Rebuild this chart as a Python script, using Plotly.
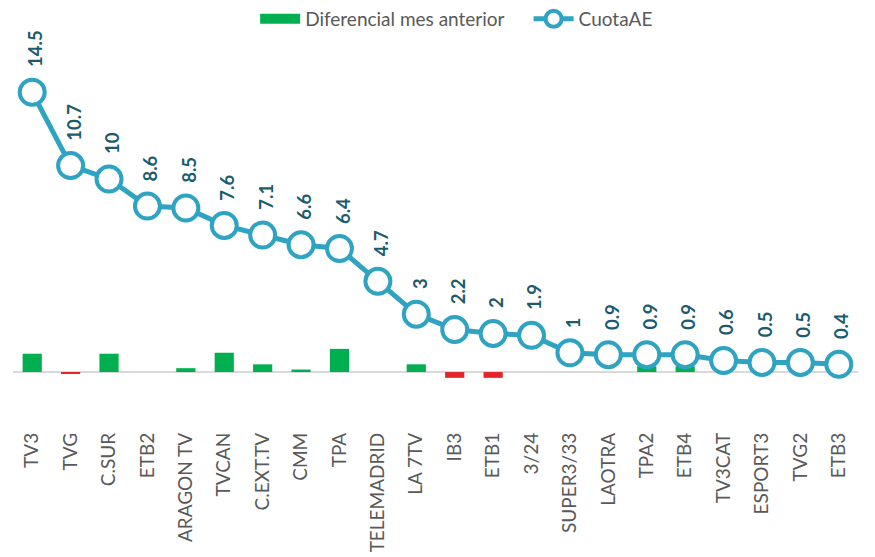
import plotly.graph_objects as go

categories = ["TV3", "TVG", "C.SUR", "ETB2", "ARAGON TV", "TVCAN", "C.EXT.TV", "CMM", "TPA",
              "TELEMADRID", "LA 7TV", "IB3", "ETB1", "3/24", "SUPER3/33", "LAOTRA", "TPA2",
              "ETB4", "TV3CAT", "ESPORT3", "TVG2", "ETB3"]
cuota = [14.5, 10.7, 10, 8.6, 8.5, 7.6, 7.1, 6.6, 6.4, 4.7, 3, 2.2, 2, 1.9, 1, 0.9, 0.9, 0.9,
         0.6, 0.5, 0.5, 0.4]
diferencial = [0.95, -0.1, 0.95, 0, 0.2, 1.0, 0.4, 0.13, 1.2, 0, 0.4, -0.3, -0.3, 0, 0, 0,
               0.3, 0.3, 0, -0.05, 0, 0]

line_color = "#2fa3c2"
label_color = "#1a5c6e"
green = "#00b050"
red = "#e3242b"
bar_colors = [green if v >= 0 else red for v in diferencial]
FONT = "Lato, Open Sans, sans-serif"

fig = go.Figure()
fig.add_trace(go.Bar(
    x=categories, y=diferencial, name="Diferencial mes anterior", showlegend=False,
    marker=dict(color=bar_colors, line=dict(width=0)),
))
# legend entry drawn as a wide green band (like the original legend key)
fig.add_trace(go.Scatter(
    x=[None], y=[None], name="Diferencial mes anterior&nbsp;&nbsp;&nbsp;&nbsp;", mode="lines",
    line=dict(color=green, width=10),
))
fig.add_trace(go.Scatter(
    x=categories, y=cuota, name="CuotaAE", mode="lines+markers",
    line=dict(color=line_color, width=5),
    marker=dict(size=25, color="white", line=dict(color=line_color, width=4)),
))

for c, v in zip(categories, cuota):
    fig.add_annotation(
        x=c, y=v, text=f"<b>{v:g}</b>", showarrow=False, textangle=-90,
        xanchor="center", yanchor="bottom", yshift=23, xshift=3,
        font=dict(family=FONT, size=18.5, color=label_color),
    )

fig.update_layout(
    width=875, height=557,
    margin=dict(l=5, r=25, t=30, b=137, autoexpand=False),
    paper_bgcolor="white", plot_bgcolor="white",
    bargap=0.5,
    showlegend=True,
    legend=dict(orientation="h", x=0.525, xanchor="center", y=1.0, yanchor="bottom",
                font=dict(family=FONT, size=19, color="#595959"),
                traceorder="normal", itemwidth=40, bgcolor="rgba(0,0,0,0)"),
    font=dict(family=FONT, color="#595959"),
)
fig.update_xaxes(
    range=[-0.5, len(categories) - 0.5],
    tickangle=-90, tickfont=dict(size=19, color="#595959"), showgrid=False,
    showline=False, ticks="", automargin=False,
)
fig.update_yaxes(
    range=[-2.9, 17.31], showgrid=False, showticklabels=False, zeroline=True,
    zerolinecolor="#d9d9d9", zerolinewidth=1.5, showline=False,
)

fig.write_html("out.html")
